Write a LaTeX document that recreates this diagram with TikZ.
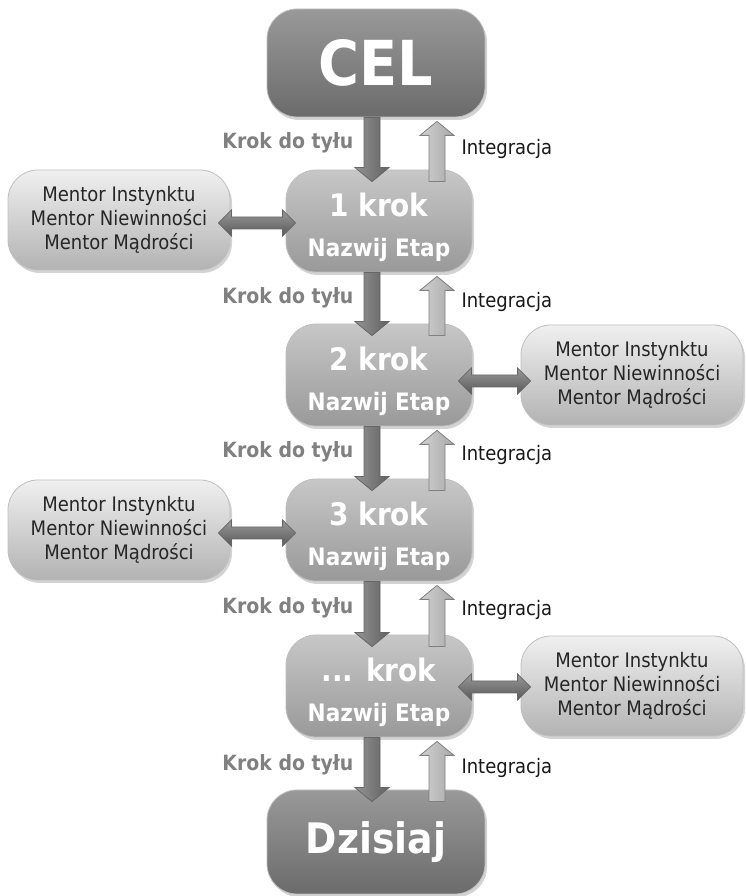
\documentclass[tikz,border=0pt]{standalone}
\usepackage{fontspec}
\setmainfont{DejaVu Sans Condensed}
\usetikzlibrary{arrows.meta,shadows,calc}
\newcommand\vblock[3]{%
  \path[#1] let \p1=(#2), \p2=(#3), \n1={ifthenelse(\y2>\y1,1,-1)} in
    ({\x1-8},\y1) -- ({\x1-8},{\y2-14*\n1}) -- ({\x1-17},{\y2-14*\n1}) -- (\x1,\y2)
    -- ({\x1+17},{\y2-14*\n1}) -- ({\x1+8},{\y2-14*\n1}) -- ({\x1+8},\y1) -- cycle;}
\newcommand\hblock[3]{%
  \path[#1] let \p1=(#2), \p2=(#3) in
    (\x1,\y1) -- ({\x1+13},{\y1+13}) -- ({\x1+13},{\y1+6}) -- ({\x2-13},{\y1+6})
    -- ({\x2-13},{\y1+13}) -- (\x2,\y1) -- ({\x2-13},{\y1-13}) -- ({\x2-13},{\y1-6})
    -- ({\x1+13},{\y1-6}) -- ({\x1+13},{\y1-13}) -- cycle;}
\begin{document}
\begin{tikzpicture}[x=1pt,y=1pt,
  box/.style={rounded corners=30pt, inner sep=0pt, align=center,
    drop shadow={opacity=0.35,shadow xshift=2pt,shadow yshift=-3pt},
    draw=black!25, line width=0.8pt},
  endbox/.style={box, minimum width=218pt, minimum height=108pt,
    top color=black!40, bottom color=black!58, text=white,
    font=\bfseries\fontsize{62}{64}\selectfont},
  stepbox/.style={box, minimum width=186pt, minimum height=102pt,
    top color=black!22, bottom color=black!40},
  steptext/.style={align=center, text=white, inner sep=0pt,
    font=\bfseries\fontsize{24}{40}\selectfont},
  mentorbox/.style={box, minimum width=222pt, minimum height=100pt,
    top color=black!6, bottom color=black!30, text=black!85,
    font=\fontsize{20}{24}\selectfont},
  downarrow/.style={left color=black!42, right color=black!62, draw=black!60, line width=0.8pt},
  uparrow/.style={left color=black!18, right color=black!34, draw=black!50, line width=0.8pt},
  harrow/.style={top color=black!40, bottom color=black!65, draw=black!60, line width=0.8pt},
  backlabel/.style={anchor=east, text=black!50, font=\bfseries\fontsize{21}{24}\selectfont},
  intlabel/.style={anchor=west, text=black!90, font=\fontsize{20}{24}\selectfont}
]
\useasboundingbox (0,0) rectangle (745,896);

\node[endbox] (cel) at (376,833) {CEL};
\node[stepbox] (s1) at (379,675) {};
\node[stepbox] (s2) at (379,521) {};
\node[stepbox] (s3) at (379,366) {};
\node[stepbox] (s4) at (379,210) {};
\node[steptext] (t1) at ($(s1)+(0,-6)$) {{\fontsize{31}{34}\selectfont 1 krok}\\Nazwij Etap};
\node[steptext] (t2) at ($(s2)+(0,-6)$) {{\fontsize{31}{34}\selectfont 2 krok}\\Nazwij Etap};
\node[steptext] (t3) at ($(s3)+(0,-6)$) {{\fontsize{31}{34}\selectfont 3 krok}\\Nazwij Etap};
\node[steptext] (t4) at ($(s4)+(0,-6)$) {{\fontsize{31}{34}\selectfont ... krok}\\Nazwij Etap};
\node[endbox, font=\bfseries\fontsize{42}{46}\selectfont, minimum height=104pt] (dz) at (376,54) {Dzisiaj};

\node[mentorbox] (m1) at (119,676) {Mentor Instynktu\\Mentor Niewinności\\Mentor Mądrości};
\node[mentorbox] (m2) at (632,521) {Mentor Instynktu\\Mentor Niewinności\\Mentor Mądrości};
\node[mentorbox] (m3) at (119,366) {Mentor Instynktu\\Mentor Niewinności\\Mentor Mądrości};
\node[mentorbox] (m4) at (632,210) {Mentor Instynktu\\Mentor Niewinności\\Mentor Mądrości};

\coordinate (dx) at (372,0);
\coordinate (ux) at (437,0);

% vertical connectors
\foreach \a/\b in {cel/s1, s1/s2, s2/s3, s3/s4, s4/dz}{
  \coordinate (da) at (\a.south -| dx);
  \coordinate (db) at ($(\b.north -| dx)+(0,-12)$);
  \coordinate (ua) at ($(\b.north -| ux)+(0,-12)$);
  \coordinate (ub) at ($(\a.south -| ux)+(0,-4)$);
  \vblock{downarrow}{da}{db}
  \vblock{uparrow}{ua}{ub}
}

% horizontal connectors
\coordinate (h1a) at ($(m1.east)+(-12,-3)$);
\coordinate (h1b) at ($(s1.west |- h1a)+(10,0)$);
\hblock{harrow}{h1a}{h1b}
\coordinate (h2a) at ($(s2.east)+(-14,-6)$);
\coordinate (h2b) at ($(m2.west |- h2a)+(10,0)$);
\hblock{harrow}{h2a}{h2b}
\coordinate (h3a) at ($(m3.east)+(-12,-3)$);
\coordinate (h3b) at ($(s3.west |- h3a)+(10,0)$);
\hblock{harrow}{h3a}{h3b}
\coordinate (h4a) at ($(s4.east)+(-14,-1)$);
\coordinate (h4b) at ($(m4.west |- h4a)+(10,0)$);
\hblock{harrow}{h4a}{h4b}

% labels
\node[backlabel] (k1) at (357,753) {Krok do tyłu};
\node[backlabel] (k2) at (357,598) {Krok do tyłu};
\node[backlabel] (k3) at (357,444) {Krok do tyłu};
\node[backlabel] (k4) at (357,288) {Krok do tyłu};
\node[backlabel] (k5) at (357,131) {Krok do tyłu};
\node[intlabel] (i1) at (458,747) {Integracja};
\node[intlabel] (i2) at (458,594) {Integracja};
\node[intlabel] (i3) at (458,441) {Integracja};
\node[intlabel] (i4) at (458,286) {Integracja};
\node[intlabel] (i5) at (458,128) {Integracja};
\end{tikzpicture}
\end{document}
